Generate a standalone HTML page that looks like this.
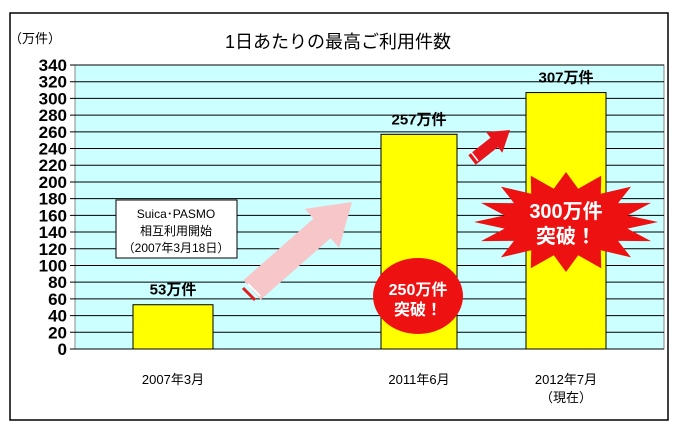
<!DOCTYPE html>
<html><head><meta charset="utf-8"><style>
body{margin:0;background:#fff}
svg text{font-family:"Liberation Sans","Noto Sans CJK JP",sans-serif}
</style></head><body>
<svg id="c" width="677" height="433" viewBox="0 0 677 433" xmlns="http://www.w3.org/2000/svg">
<rect x="10" y="13" width="658" height="407" fill="#fff" stroke="#000" stroke-width="1.5"/>
<text x="338" y="48" font-size="18" text-anchor="middle">1日あたりの最高ご利用件数</text>
<text x="35" y="43" font-size="13" text-anchor="middle">（万件）</text>
<g id="plot"></g>
<g id="deco">
<polygon points="243.4,280.2 313.4,218.6 304.8,208.9 352,202 339.2,247.9 330.6,238.2 260.6,299.8" fill="#f7c6c8"/>
<line x1="243" y1="288" x2="255" y2="300" stroke="#e02020" stroke-width="3"/>
<line x1="248" y1="284" x2="260" y2="296" stroke="#fff" stroke-width="2"/>
<polygon points="468.3,155.3 490.5,137.7 486.1,132.1 510,130 502.3,152.7 497.9,147.1 475.7,164.7" fill="#e8141c"/>
<line x1="471" y1="152" x2="478" y2="161" stroke="#fff" stroke-width="1.5"/>
<ellipse cx="418" cy="296" rx="45" ry="38" fill="#ee1111"/>
<text x="418" y="295" font-size="16" font-weight="bold" fill="#fff" text-anchor="middle">250万件</text>
<text x="418" y="315" font-size="16" font-weight="bold" fill="#fff" text-anchor="middle">突破！</text>
<polygon id="star" fill="#ee1111"/>
<text x="566" y="218" font-size="20" font-weight="bold" fill="#fff" text-anchor="middle">300万件</text>
<text x="566" y="243" font-size="20" font-weight="bold" fill="#fff" text-anchor="middle">突破！</text>
<rect x="116" y="200" width="121" height="58" fill="#fff" stroke="#000"/>
<text x="176" y="218" font-size="12" text-anchor="middle">Suica･PASMO</text>
<text x="176" y="235" font-size="12" text-anchor="middle">相互利用開始</text>
<text x="176" y="252" font-size="12" text-anchor="middle">（2007年3月18日）</text>
</g>
</svg>
<script>
const categories=["2007年3月","2011年6月","2012年7月"];
const subLabels=["","","（現在）"];
const values=[53,257,307];
const valueLabels=["53万件","257万件","307万件"];
const yTicks=[0,20,40,60,80,100,120,140,160,180,200,220,240,260,280,300,320,340];
const NS="http://www.w3.org/2000/svg";
const X0=75,X1=664,Y0=349,Y1=65,YMAX=340;
const y=v=>Y0-(v/YMAX)*(Y0-Y1);
const centers=[173,419,566],bw=[80,76,80];
const g=document.getElementById('plot');
function mk(t,a,p){const e=document.createElementNS(NS,t);for(const k in a)e.setAttribute(k,a[k]);(p||g).appendChild(e);return e;}
const bg=mk('rect',{x:X0,y:Y1,width:X1-X0,height:Y0-Y1,fill:'#ccffff',stroke:'#888'});


yTicks.forEach(v=>{
 const l=mk('line',{x1:X0-5,x2:X1,y1:y(v),y2:y(v),stroke:'#000','stroke-width':1});
 
 
 const t=mk('text',{x:67,y:y(v)+6,'font-size':17,'font-weight':'bold','text-anchor':'end'});t.textContent=v;
 
 
});
values.forEach((v,i)=>{
 const cx=centers[i];
 const r=mk('rect',{x:cx-bw[i]/2,y:y(v),width:bw[i],height:Y0-y(v),fill:'#ffff00',stroke:'#000','stroke-width':1});
 
 
 const t=mk('text',{x:cx,y:y(v)-10,'font-size':15,'font-weight':'bold','text-anchor':'middle'});t.textContent=valueLabels[i];
 
 
 const c=mk('text',{x:cx,y:384,'font-size':13,'text-anchor':'middle'});c.textContent=categories[i];
 
 
 if(subLabels[i]){const s=mk('text',{x:cx,y:402,'font-size':13,'text-anchor':'middle'});s.textContent=subLabels[i];
 
 }
});
const pts=[];const N=16;
for(let k=0;k<N*2;k++){const a=k*Math.PI/N;const r=k%2?0.68:1;pts.push((566+Math.cos(a)*92*r).toFixed(1)+','+(222+Math.sin(a)*50*r).toFixed(1));}
document.getElementById('star').setAttribute('points',pts.join(' '));
</script>
</body></html>
